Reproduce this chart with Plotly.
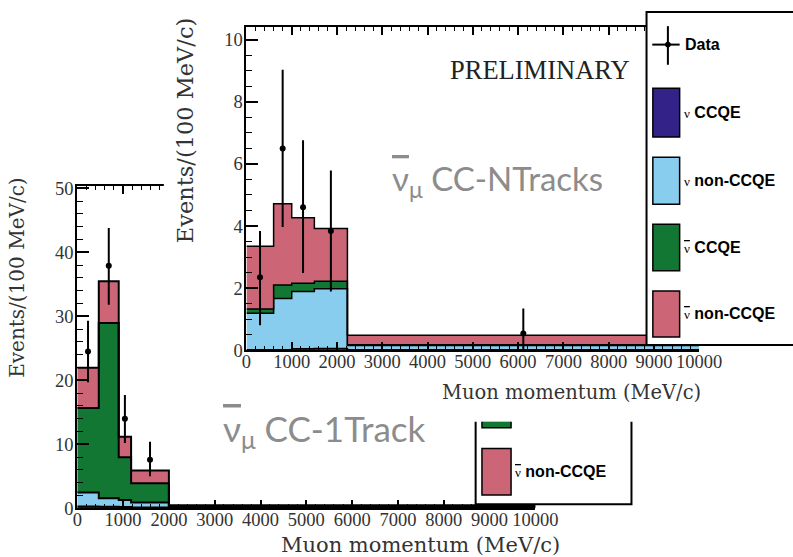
import plotly.graph_objects as go
import numpy as np

# Positions below are written in pixels of the 793x557 picture.  The page is
# photographed at a scale of about 0.962 with an 8 px body margin, so they are
# converted to figure pixels by px()/py().
S = 0.962
OFF = 8
W, H = 808, 563

# ---------------- CC-1Track (lower-left plot) ----------------
edges_1t = [0, 470, 905, 1175, 2000, 10000]
nu_ccqe_1t = [0.30, 0.25, 0.20, 0.15, 0.12]
nu_non_1t = [2.17, 1.32, 1.10, 0.75, 0.13]
nubar_ccqe_1t = [13.2, 27.4, 6.7, 3.0, 0.13]
nubar_non_1t = [6.3, 6.5, 3.2, 2.0, 0.12]
data_x_1t = [235, 688, 1040, 1588]
data_y_1t = [24.5, 37.9, 14.0, 7.6]
data_ep_1t = [4.8, 5.9, 3.7, 2.8]
data_em_1t = [4.8, 6.1, 3.8, 2.6]

# ---------------- CC-NTracks (upper-right plot) ----------------
edges_nt = [0, 600, 1000, 1500, 2230, 10000]
nu_ccqe_nt = [0.02, 0.02, 0.05, 0.06, 0.02]
nu_non_nt = [1.17, 1.65, 1.84, 1.92, 0.14]
nubar_ccqe_nt = [0.14, 0.43, 0.27, 0.24, 0.02]
nubar_non_nt = [2.02, 2.62, 2.11, 1.70, 0.31]
data_x_nt = [300, 800, 1250, 1865, 6115]
data_y_nt = [2.35, 6.49, 4.60, 3.84, 0.54]
data_ep_nt = [1.49, 2.54, 2.16, 1.95, 0.81]
data_em_nt = [1.54, 2.52, 2.11, 1.95, 0.54]

x_ticks = [0, 1000, 2000, 3000, 4000, 5000, 6000, 7000, 8000, 9000, 10000]
NUBAR = "<span style='text-decoration:overline'>ν</span>"
legend_sym = ["ν", "ν", NUBAR, NUBAR]
legend_txt = ["CCQE", "non-CCQE", "CCQE", "non-CCQE"]
colors = ["#332288", "#88CCEE", "#117733", "#CC6677"]


def pxu(x):
    return (x / S - OFF) / W


def pyu(y):
    return 1 - (y / S - OFF) / H


def px(x):
    return min(max(pxu(x), 0.0), 1.0)


def py(y):
    return min(max(pyu(y), 0.0), 1.0)


fig = go.Figure()


def add_stack(edges, comps, xa, ya, lw):
    cum = np.zeros(len(comps[0]))
    for i, (vals, col) in enumerate(zip(comps, colors)):
        cum = cum + np.array(vals)
        yv = list(cum) + [cum[-1]]
        fig.add_trace(go.Scatter(
            x=edges, y=yv, mode="lines",
            line=dict(shape="hv", color="black", width=lw),
            fill="tozeroy" if i == 0 else "tonexty", fillcolor=col,
            xaxis=xa, yaxis=ya, showlegend=False, hoverinfo="skip"))


def add_data(x, y, ep, em, xa, ya):
    fig.add_trace(go.Scatter(
        x=x, y=y, mode="markers",
        marker=dict(color="black", size=6),
        error_y=dict(type="data", array=ep, arrayminus=em, symmetric=False,
                     color="black", thickness=2, width=0),
        xaxis=xa, yaxis=ya, showlegend=False, hoverinfo="skip"))


# lower plot
add_stack(edges_1t, [nu_ccqe_1t, nu_non_1t, nubar_ccqe_1t, nubar_non_1t], "x", "y", 2)
add_data(data_x_1t, data_y_1t, data_ep_1t, data_em_1t, "x", "y")
# white cover subplot (the overlaid picture)
fig.add_trace(go.Scatter(x=[None], y=[None], xaxis="x2", yaxis="y2",
                         showlegend=False, hoverinfo="skip"))
# upper plot
add_stack(edges_nt, [nu_ccqe_nt, nu_non_nt, nubar_ccqe_nt, nubar_non_nt], "x3", "y3", 1.5)
add_data(data_x_nt, data_y_nt, data_ep_nt, data_em_nt, "x3", "y3")

tickfont = dict(family="Liberation Serif", size=18.5, color="#333333")


def xaxis_def(dom, anchor):
    return dict(domain=dom, range=[0, 10000], anchor=anchor, showline=True,
                linecolor="black", linewidth=2, mirror="ticks", ticks="inside",
                ticklen=8, tickwidth=1.5, tickcolor="black",
                tickvals=x_ticks, ticktext=[str(v) for v in x_ticks],
                tickangle=0, tickfont=tickfont, showgrid=False, zeroline=False,
                ticklabelstandoff=-7,
                minor=dict(ticks="inside", ticklen=4, dtick=200, tick0=0,
                           tickcolor="black", tickwidth=1, showgrid=False))


def yaxis_def(dom, anchor, rng, dt, mdt):
    return dict(domain=dom, range=rng, anchor=anchor, showline=True,
                linecolor="black", linewidth=2, mirror=False, ticks="inside",
                ticklen=12, tickwidth=1.5, tickcolor="black", dtick=dt, tick0=0,
                tickfont=tickfont, showgrid=False, zeroline=False,
                ticklabelstandoff=-2,
                minor=dict(ticks="inside", ticklen=6, dtick=mdt, tick0=0,
                           tickcolor="black", tickwidth=1, showgrid=False))


fig.update_layout(
    width=W, height=H, autosize=False,
    margin=dict(l=0, r=0, t=0, b=0),
    paper_bgcolor="white", plot_bgcolor="white",
    showlegend=False,
    xaxis=xaxis_def([px(79.7), px(536.3)], "y"),
    yaxis=yaxis_def([py(505), py(185)], "x", [0, 50.4], 10, 2),
    xaxis2=dict(domain=[px(166), 1], anchor="y2", visible=False, range=[0, 1]),
    yaxis2=dict(domain=[py(419), 1], anchor="x2", visible=False, range=[0, 1]),
    xaxis3=xaxis_def([px(248.3), px(699.5)], "y3"),
    yaxis3=yaxis_def([py(348.3), py(27.3)], "x3", [0, 10.41], 2, 0.5),
)

ann = []


def add_text(text, x, y, font, xanchor="center", yanchor="middle", angle=0):
    ann.append(dict(text=text, x=px(x), y=py(y), xref="paper", yref="paper",
                    xanchor=xanchor, yanchor=yanchor, textangle=angle,
                    showarrow=False, font=font))


# axis titles
add_text("Muon momentum (MeV/c)", 703, 390,
         dict(family="DejaVu Serif", size=19.5, color="#333333"), xanchor="right")
add_text("Muon momentum (MeV/c)", 563, 541,
         dict(family="DejaVu Serif", size=21, color="#333333"), xanchor="right")
add_text("Events/(100 MeV/c)", 187, 130,
         dict(family="DejaVu Serif", size=22.5, color="#333333"), angle=-90)
add_text("Events/(100 MeV/c)", 20, 276,
         dict(family="DejaVu Serif", size=20, color="#333333"), angle=-90)
# labels
add_text("PRELIMINARY", 541, 70, dict(family="Liberation Serif", size=26.5, color="#222222"))
add_text(NUBAR + "<sub>μ</sub> CC-NTracks", 498, 180,
         dict(family="Lato", size=33, color="#8c8c8c"))
add_text(NUBAR + "<sub>μ</sub> CC-1Track", 326, 428,
         dict(family="Lato", size=35, color="#8c8c8c"))

shapes = []


def rect(x0, y0, x1, y1, fill, lw, lc="black"):
    shapes.append(dict(type="rect", xref="paper", yref="paper", x0=pxu(x0), x1=pxu(x1),
                       y0=pyu(y1), y1=pyu(y0), fillcolor=fill,
                       line=dict(color=lc, width=lw), layer="above"))


def path(pts, lw):
    d = "M " + " L ".join("%f,%f" % (pxu(a), pyu(b)) for a, b in pts)
    shapes.append(dict(type="path", xref="paper", yref="paper", path=d,
                       line=dict(color="black", width=lw), layer="above"))


# ---- upper legend (runs off the right edge) ----
rect(647, 12.7, 830, 343, "white", 0)
path([(830, 12.7), (647, 12.7), (647, 343), (830, 343)], 2)
path([(652.7, 45), (680, 45)], 2)
path([(668.3, 26.7), (668.3, 65)], 2)
shapes.append(dict(type="circle", xref="paper", yref="paper", x0=pxu(665.8), x1=pxu(670.8),
                   y0=pyu(47.5), y1=pyu(42.5), fillcolor="black",
                   line=dict(color="black", width=1), layer="above"))
leg_font = dict(family="Liberation Sans", size=16, color="black")
add_text("<b>Data</b>", 683, 45, leg_font, xanchor="left")
box_rows = [(88.3, 136.7), (156.7, 203.3), (223.3, 269.3), (289.3, 335)]
for (t, b), col, sym, txt in zip(box_rows, colors, legend_sym, legend_txt):
    rect(653.3, t, 680, b, col, 1.5)
    add_text("<span style='font-family:Liberation Serif;font-size:13px'>" + sym +
             "</span> <b>" + txt + "</b>", 682, (t + b) / 2, leg_font, xanchor="left")

# ---- lower legend (visible part below the overlaid picture) ----
rect(476.7, 419, 632, 501, "white", 0)
path([(476.7, 419), (476.7, 501), (632, 501), (632, 419)], 2)
rect(483, 419, 512, 425, colors[2], 0)
path([(483, 419), (483, 425), (512, 425), (512, 419)], 1.5)
rect(483, 445.7, 512, 491.7, colors[3], 1.5)
add_text("<span style='font-family:Liberation Serif;font-size:13px'>" + NUBAR +
         "</span> <b>non-CCQE</b>", 514, 468, leg_font, xanchor="left")

fig.update_layout(annotations=ann, shapes=shapes)
fig.write_html("out.html")
